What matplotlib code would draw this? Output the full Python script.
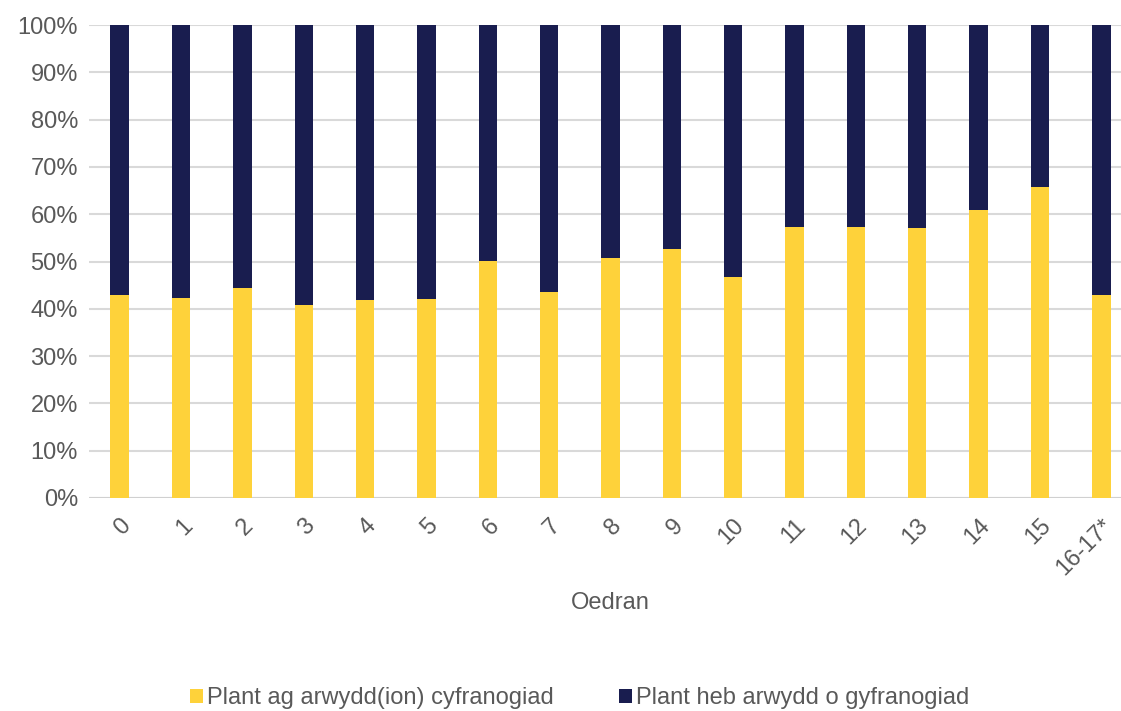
import numpy as np
import matplotlib
matplotlib.use('Agg')
import matplotlib.pyplot as plt
from matplotlib.ticker import PercentFormatter

plt.rcParams['font.family'] = ['Liberation Sans', 'DejaVu Sans']

# Data (canran %)
oedran = ['0', '1', '2', '3', '4', '5', '6', '7', '8', '9', '10',
          '11', '12', '13', '14', '15', '16-17*']
gyda_arwydd = [43.0, 42.3, 44.3, 40.7, 41.8, 42.0, 50.1, 43.5, 50.7, 52.6,
               46.8, 57.2, 57.2, 57.0, 60.9, 65.8, 43.0]
heb_arwydd = [100 - v for v in gyda_arwydd]

lliw_melyn = '#FED23A'
lliw_glas = '#191D4F'
lliw_testun = '#595959'

fig = plt.figure(figsize=(11.21, 7.11), dpi=100)
ax = fig.add_axes([89 / 1121, 1 - 498 / 711, (1132 - 89) / 1121, (498 - 25) / 711])

x = np.arange(len(oedran))
ax.bar(x, gyda_arwydd, width=0.3, color=lliw_melyn,
       label='Plant ag arwydd(ion) cyfranogiad', zorder=3)
ax.bar(x, heb_arwydd, width=0.3, bottom=gyda_arwydd, color=lliw_glas,
       label='Plant heb arwydd o gyfranogiad', zorder=3)

ax.set_xlim(-0.5, len(oedran) - 0.5)
ax.set_ylim(0, 100)
ax.set_yticks(np.arange(0, 101, 10))
ax.yaxis.set_major_formatter(PercentFormatter(decimals=0))
ax.grid(axis='y', color='#D9D9D9', linewidth=1.5, zorder=0)
ax.set_axisbelow(True)
for s in ax.spines.values():
    s.set_visible(False)
ax.axhline(0, color='#D0D0D0', linewidth=1.5, zorder=2)

ax.set_xticks(x)
ax.set_xticklabels(oedran, rotation=45, ha='right', rotation_mode='anchor')
ax.tick_params(axis='both', length=0, labelsize=17, labelcolor=lliw_testun)
ax.tick_params(axis='x', pad=12)
ax.tick_params(axis='y', pad=8)

ax.set_xlabel('Oedran', fontsize=17, color=lliw_testun, labelpad=9)

fig.legend(loc='center', bbox_to_anchor=(0.517, 0.018), ncol=2, frameon=False,
           fontsize=17, labelcolor=lliw_testun, handlelength=0.55,
           handleheight=0.55, handletextpad=0.15, columnspacing=2.8)

fig.savefig('out.png', dpi=100)
